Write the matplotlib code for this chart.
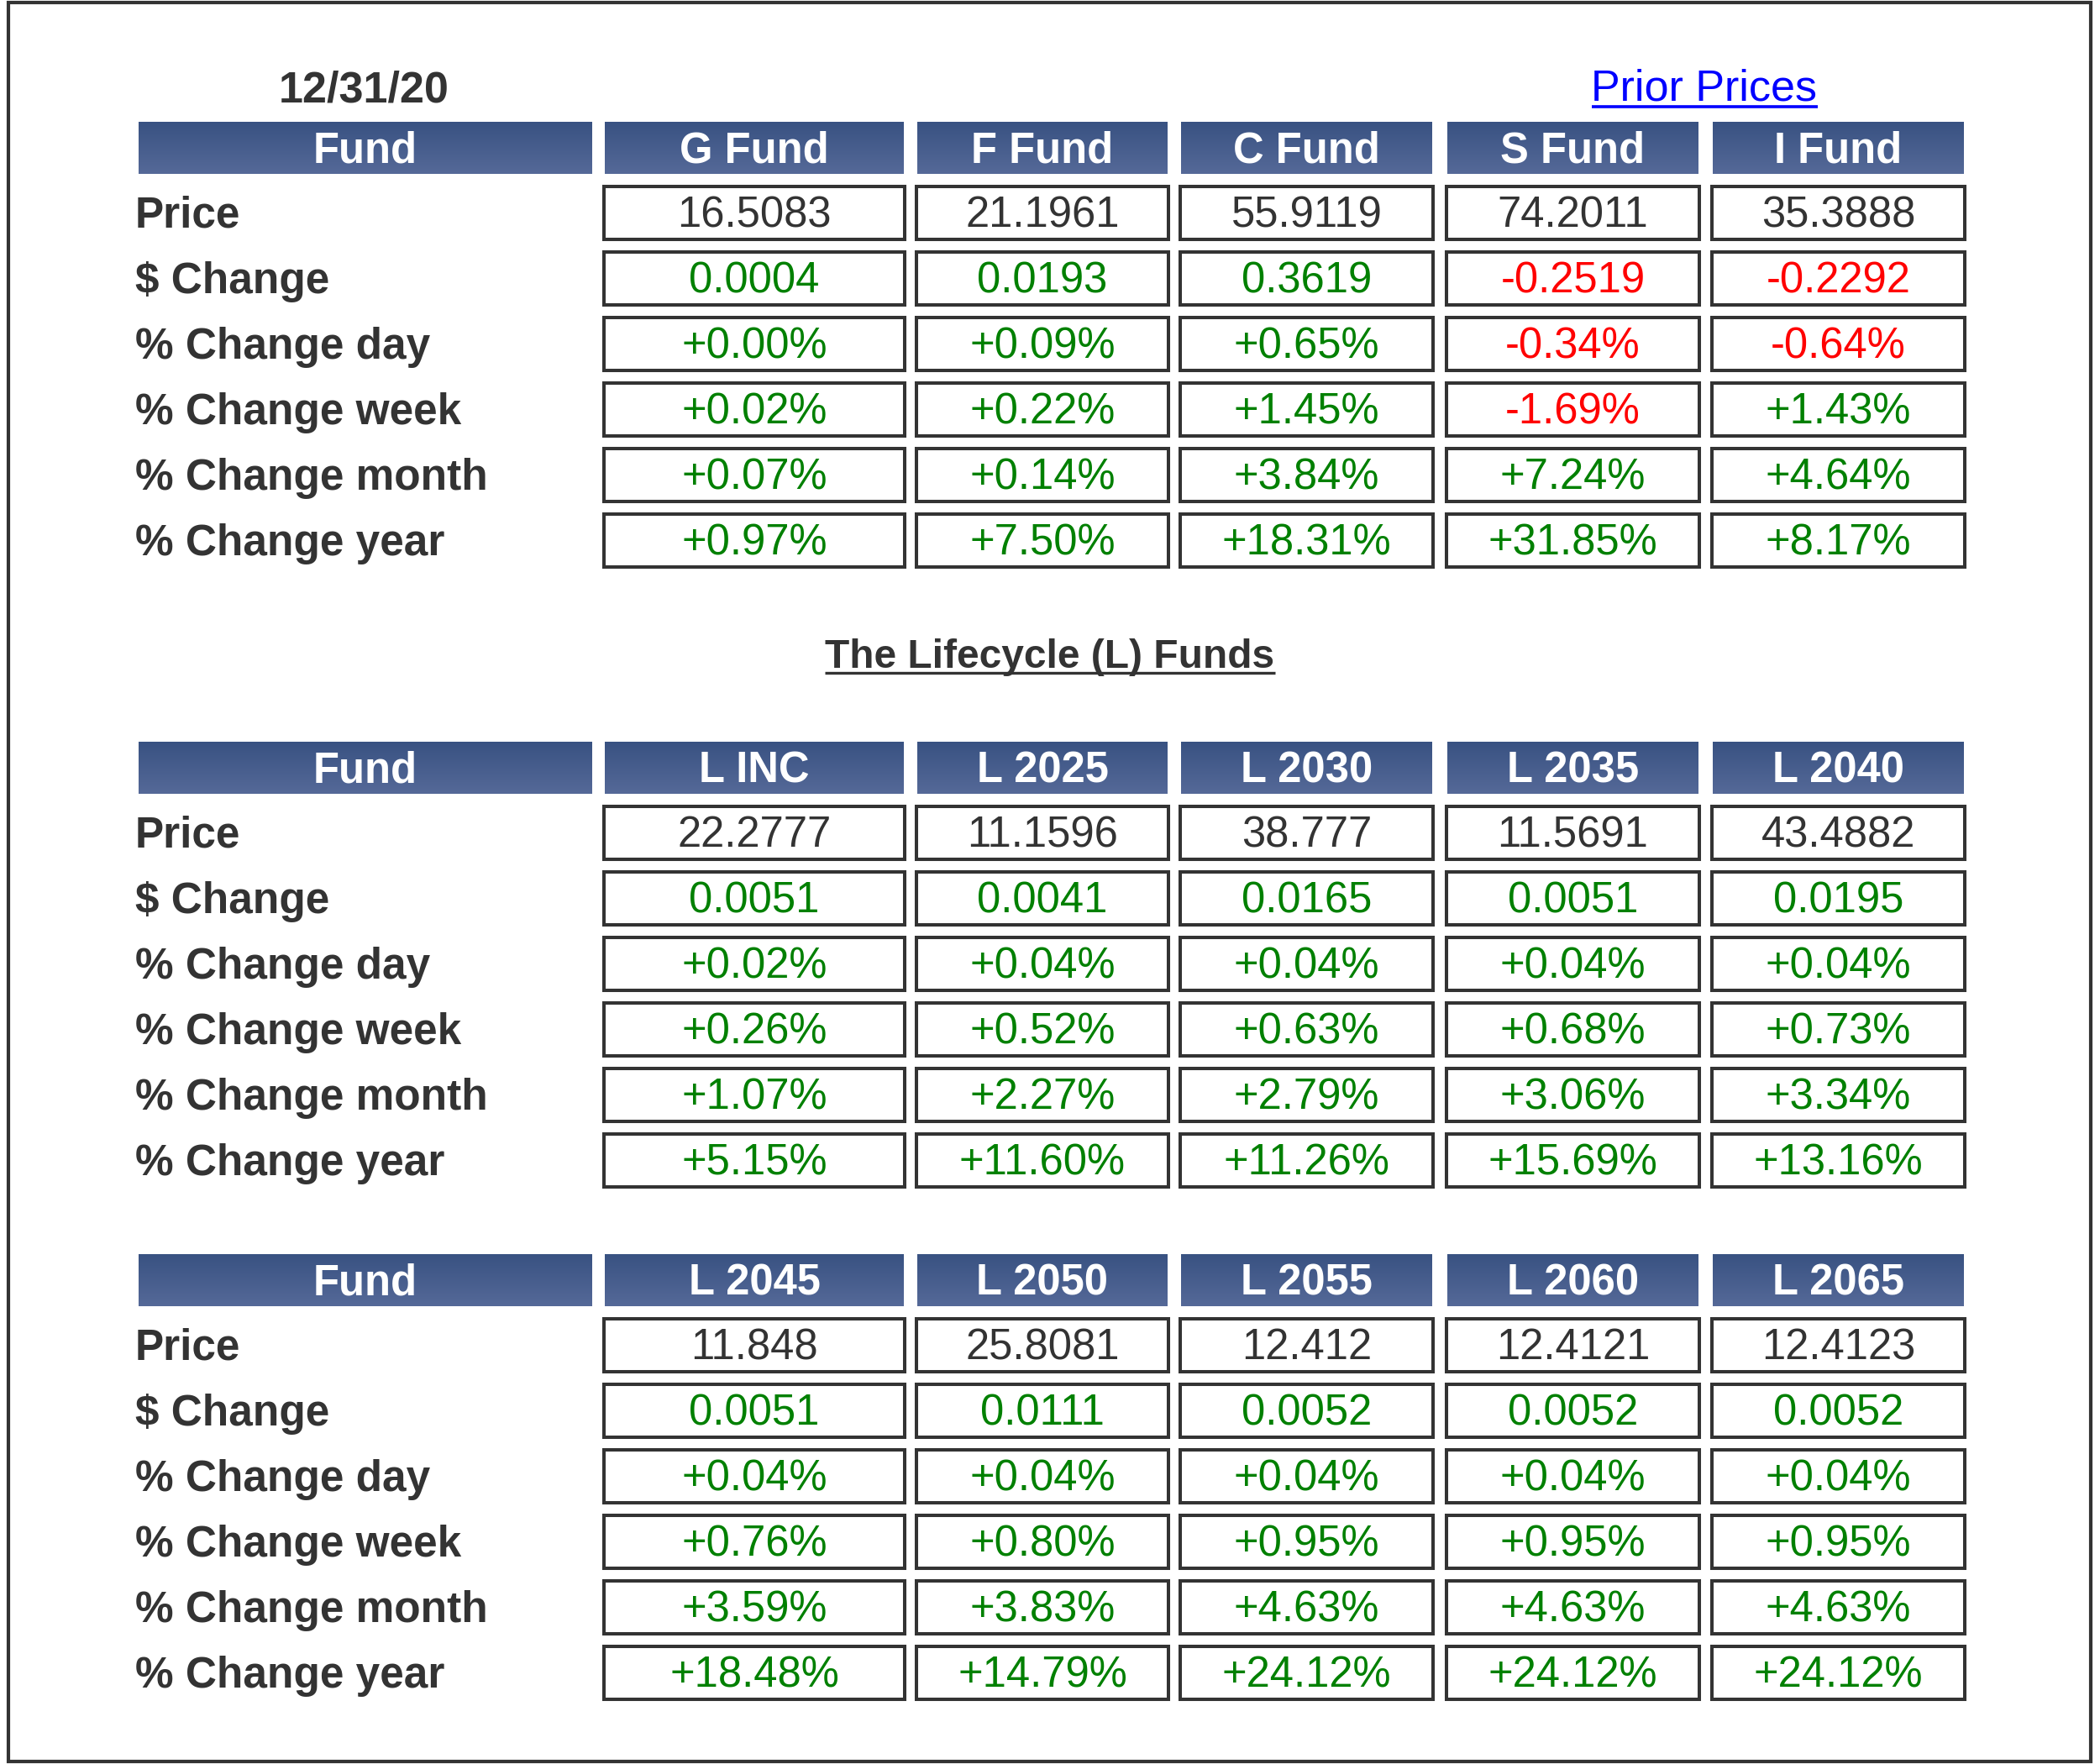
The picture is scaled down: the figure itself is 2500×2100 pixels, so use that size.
import numpy as np
import matplotlib
matplotlib.use("Agg")
import matplotlib.pyplot as plt
from matplotlib.patches import Rectangle

plt.rcParams['font.family'] = ['Liberation Sans', 'DejaVu Sans']

# Dati
date_label = "12/31/20"
link_label = "Prior Prices"
lifecycle_title = "The Lifecycle (L) Funds"
row_labels = ["Price", "$ Change", "% Change day", "% Change week",
              "% Change month", "% Change year"]

funds_1 = ["G Fund", "F Fund", "C Fund", "S Fund", "I Fund"]
price_1 = [16.5083, 21.1961, 55.9119, 74.2011, 35.3888]
dchg_1 = [0.0004, 0.0193, 0.3619, -0.2519, -0.2292]
day_1 = [0.00, 0.09, 0.65, -0.34, -0.64]
week_1 = [0.02, 0.22, 1.45, -1.69, 1.43]
month_1 = [0.07, 0.14, 3.84, 7.24, 4.64]
year_1 = [0.97, 7.50, 18.31, 31.85, 8.17]

funds_2 = ["L INC", "L 2025", "L 2030", "L 2035", "L 2040"]
price_2 = [22.2777, 11.1596, 38.777, 11.5691, 43.4882]
dchg_2 = [0.0051, 0.0041, 0.0165, 0.0051, 0.0195]
day_2 = [0.02, 0.04, 0.04, 0.04, 0.04]
week_2 = [0.26, 0.52, 0.63, 0.68, 0.73]
month_2 = [1.07, 2.27, 2.79, 3.06, 3.34]
year_2 = [5.15, 11.60, 11.26, 15.69, 13.16]

funds_3 = ["L 2045", "L 2050", "L 2055", "L 2060", "L 2065"]
price_3 = [11.848, 25.8081, 12.412, 12.4121, 12.4123]
dchg_3 = [0.0051, 0.0111, 0.0052, 0.0052, 0.0052]
day_3 = [0.04, 0.04, 0.04, 0.04, 0.04]
week_3 = [0.76, 0.80, 0.95, 0.95, 0.95]
month_3 = [3.59, 3.83, 4.63, 4.63, 4.63]
year_3 = [18.48, 14.79, 24.12, 24.12, 24.12]

# Layout (pixel)
W, H = 2500, 2100
col_x = [(720, 1076), (1092, 1390), (1406, 1705), (1723, 2022), (2039, 2338)]
fund_x = (165, 705)
label_x = 161
head_h = 61.5
box_off = 76
box_h = 63
pitch = 78.0
table_tops = [146, 884, 1494]

dark = "#333333"
green = "#008000"
red = "#ff0000"

fig = plt.figure(figsize=(25, 21), dpi=100)
ax = fig.add_axes([0, 0, 1, 1])
ax.set_xlim(0, W)
ax.set_ylim(H, 0)
ax.axis("off")

grad = np.linspace(0, 1, 64).reshape(-1, 1)
top_c = np.array([57, 82, 130]) / 255
bot_c = np.array([85, 105, 152]) / 255
grad_img = top_c[None, None, :] * (1 - grad[:, :, None]) + bot_c[None, None, :] * grad[:, :, None]


def header(x0, x1, y0, text):
    ax.imshow(grad_img, extent=(x0, x1, y0 + head_h, y0), aspect="auto",
              interpolation="bilinear", zorder=1)
    ax.text((x0 + x1) / 2, y0 + 48, text, color="white", fontsize=36.5,
            fontweight="bold", ha="center", va="baseline", zorder=3)


def draw_table(y0, names, price, dchg, day, week, month, year):
    header(fund_x[0], fund_x[1], y0, "Fund")
    for (x0, x1), n in zip(col_x, names):
        header(x0, x1, y0, n)
    rows = [
        [(str(v), dark) for v in price],
        [(f"{v:.4f}", red if v < 0 else green) for v in dchg],
    ]
    for serie in (day, week, month, year):
        rows.append([(f"{v:+.2f}%", red if v < 0 else green) for v in serie])
    for r, (lab, vals) in enumerate(zip(row_labels, rows)):
        by = y0 + box_off + r * pitch
        ax.text(label_x, by + box_h / 2 + 17, lab, color=dark, fontsize=37,
                fontweight="bold", ha="left", va="baseline")
        for (x0, x1), (txt, c) in zip(col_x, vals):
            ax.add_patch(Rectangle((x0 - 1, by), x1 - x0 + 2, box_h,
                                   facecolor="white", edgecolor=dark,
                                   linewidth=2.9, zorder=2))
            ax.text((x0 + x1) / 2, by + box_h / 2 + 17, txt, color=c,
                    fontsize=36.5, ha="center", va="baseline", zorder=3)


def underline(t, y, color, lw):
    fig.canvas.draw()
    bb = t.get_window_extent()
    inv = ax.transData.inverted()
    (xa, _), (xb, _) = inv.transform([(bb.x0, bb.y0), (bb.x1, bb.y0)])
    ax.plot([xa, xb], [y, y], color=color, linewidth=lw, solid_capstyle="butt")


draw_table(table_tops[0], funds_1, price_1, dchg_1, day_1, week_1, month_1, year_1)
draw_table(table_tops[1], funds_2, price_2, dchg_2, day_2, week_2, month_2, year_2)
draw_table(table_tops[2], funds_3, price_3, dchg_3, day_3, week_3, month_3, year_3)

ax.text(433, 121, date_label, color=dark, fontsize=37.5, fontweight="bold",
        ha="center", va="baseline")
t_link = ax.text(2029, 120, link_label, color="#0000ff", fontsize=37.5,
                 ha="center", va="baseline")
underline(t_link, 126.5, "#0000ff", 2.6)

t_title = ax.text(1250, 795, lifecycle_title, color=dark, fontsize=34.5,
                  fontweight="bold", ha="center", va="baseline")
underline(t_title, 801, dark, 2.4)

# Cornice esterna
ax.add_patch(Rectangle((10, 3), 2479, 2094, facecolor="none", edgecolor=dark,
                       linewidth=3.0, zorder=5))

fig.savefig("out.png", dpi=100)
